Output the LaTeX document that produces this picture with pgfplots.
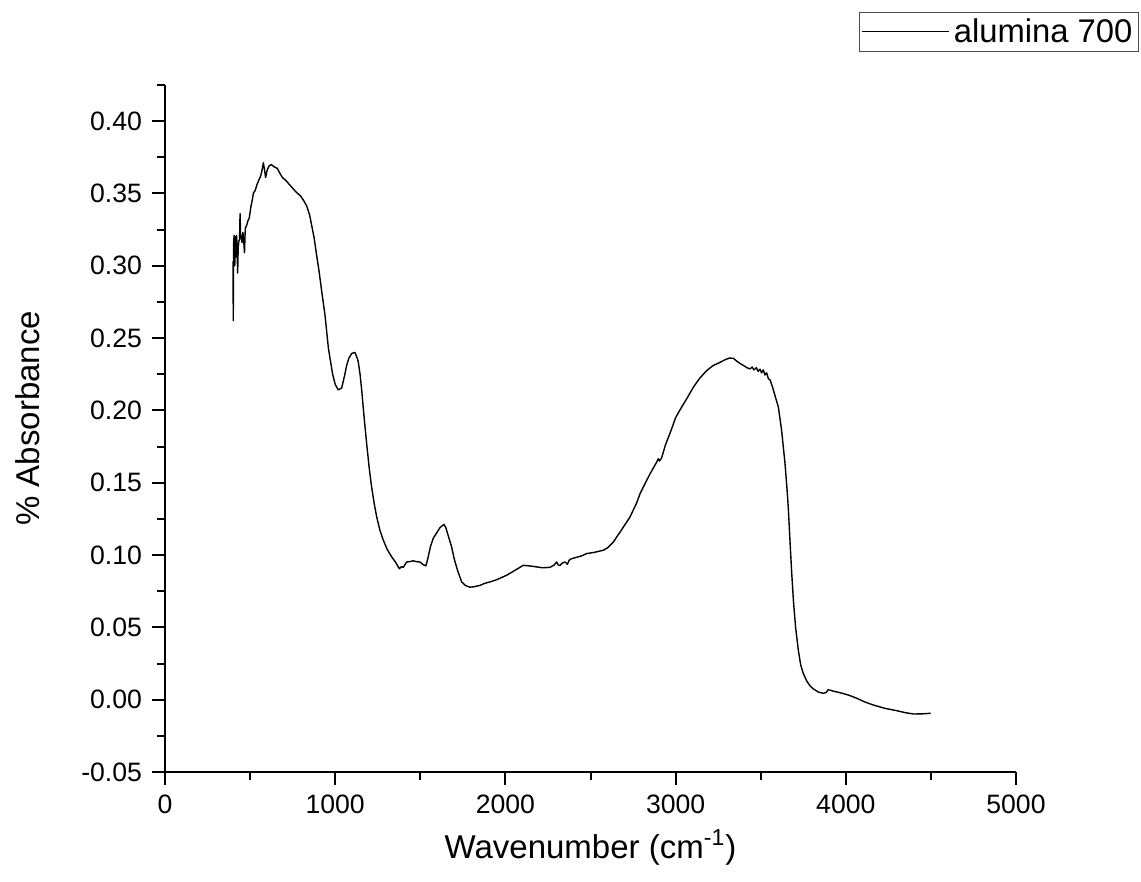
\documentclass[border=0pt]{standalone}
\usepackage{pgfplots}
\pgfplotsset{compat=1.18}
\usepackage{fontspec}
\setmainfont{Liberation Sans}
\pgfplotstableread{
x y
400 0.303
401 0.262
403 0.315
406 0.321
410 0.300
414 0.320
418 0.306
421 0.321
424 0.310
427 0.295
430 0.312
434 0.317
438 0.318
441 0.336
444 0.322
448 0.320
453 0.316
458 0.323
462 0.318
467 0.309
470 0.320
472 0.326
480 0.328
487 0.331
495 0.333
505 0.341
512 0.345
520 0.3505
530 0.352
540 0.356
553 0.3597
562 0.362
570 0.366
578 0.3712
584 0.367
591 0.361
600 0.366
611 0.369
625 0.370
640 0.3685
660 0.3673
675 0.364
690 0.361
710 0.359
739 0.3551
770 0.351
797 0.3482
815 0.345
833 0.3413
850 0.335
865 0.326
876 0.3194
890 0.308
905 0.2964
920 0.283
940 0.266
960 0.243
985 0.225
1000 0.218
1018 0.2142
1038 0.2155
1055 0.224
1067 0.2309
1080 0.236
1097 0.2394
1116 0.2401
1130 0.236
1136 0.2332
1146 0.225
1156 0.2137
1170 0.195
1185 0.1769
1200 0.160
1214 0.147
1230 0.135
1244 0.1263
1263 0.117
1283 0.1102
1305 0.104
1332 0.0987
1355 0.095
1377 0.0905
1390 0.092
1400 0.0915
1420 0.0952
1440 0.0955
1459 0.096
1475 0.0955
1498 0.0952
1515 0.0935
1533 0.0925
1545 0.098
1560 0.106
1577 0.1118
1600 0.116
1616 0.119
1639 0.1212
1650 0.119
1665 0.113
1684 0.1056
1700 0.097
1720 0.089
1743 0.0814
1765 0.079
1790 0.0778
1812 0.0780
1850 0.079
1880 0.0805
1909 0.0814
1950 0.083
2007 0.0860
2050 0.089
2105 0.0929
2140 0.0925
2184 0.0918
2220 0.0912
2262 0.0915
2285 0.093
2301 0.0952
2312 0.093
2321 0.0929
2335 0.0945
2350 0.0952
2364 0.0936
2375 0.0965
2389 0.0975
2420 0.0985
2450 0.0995
2477 0.1010
2520 0.1018
2575 0.1033
2600 0.105
2634 0.109
2680 0.117
2732 0.1263
2771 0.136
2791 0.1424
2830 0.1516
2850 0.1562
2889 0.1643
2898 0.1666
2905 0.165
2918 0.1672
2940 0.176
2977 0.1873
3000 0.195
3035 0.2022
3070 0.209
3104 0.2160
3140 0.222
3182 0.2275
3220 0.231
3261 0.2332
3290 0.235
3316 0.2362
3340 0.236
3360 0.234
3378 0.2325
3400 0.231
3420 0.2295
3437 0.2287
3450 0.2300
3460 0.228
3475 0.2295
3485 0.227
3496 0.2285
3505 0.226
3515 0.228
3525 0.2245
3535 0.226
3545 0.222
3555 0.2211
3570 0.216
3584 0.2102
3604 0.2022
3623 0.1861
3643 0.1631
3655 0.145
3662 0.133
3672 0.110
3682 0.088
3692 0.0688
3705 0.050
3721 0.0343
3735 0.024
3750 0.0182
3770 0.013
3790 0.0095
3809 0.0075
3840 0.0052
3868 0.0044
3885 0.005
3895 0.0068
3903 0.0067
3930 0.0058
3960 0.0050
3986 0.0042
4020 0.003
4064 0.0010
4110 -0.0015
4162 -0.0037
4230 -0.006
4299 -0.0076
4350 -0.0090
4397 -0.0099
4450 -0.0098
4499 -0.0094
}\spectrum
\begin{document}
\begin{tikzpicture}
\useasboundingbox (-82.5pt,-55pt) rectangle (488pt,386pt);
\begin{axis}[
  scale only axis,
  width=425.5pt, height=343.5pt,
  at={(0,0)}, anchor=south west,
  xmin=0, xmax=5000, ymin=-0.05, ymax=0.425,
  axis x line*=bottom, axis y line*=left,
  axis line style={line width=1pt, black},
  tick style={line width=1pt, black},
  tick align=outside,
  major tick length=6.5pt, minor tick length=4pt,
  xtick={0,1000,2000,3000,4000,5000},
  xticklabels={0,1000,2000,3000,4000,5000},
  minor xtick={500,1500,2500,3500,4500},
  ytick={-0.05,0,0.05,0.1,0.15,0.2,0.25,0.3,0.35,0.4},
  yticklabels={-0.05,0.00,0.05,0.10,0.15,0.20,0.25,0.30,0.35,0.40},
  minor ytick={-0.025,0.025,0.075,0.125,0.175,0.225,0.275,0.325,0.375,0.425},
  tick label style={font=\fontsize{13.3}{15}\selectfont},
  xticklabel style={yshift=-1.5pt},
  yticklabel style={xshift=-1.5pt},
  xlabel={Wavenumber (cm\textsuperscript{-1})},
  ylabel={\% Absorbance},
  label style={font=\fontsize{16.5}{19}\selectfont},
  xlabel style={at={(axis description cs:0.5,-0.1252)}, anchor=base},
  ylabel style={at={(axis description cs:-0.161,0.515)}, anchor=center},
  legend style={at={(axis description cs:1.1445,1.1063)}, anchor=north east,
    draw=black!70, line width=0.5pt, font=\fontsize{16.4}{18}\selectfont,
    inner sep=1pt, row sep=0pt},
  legend cell align=left,
  legend image code/.code={\draw[black, line width=0.6pt] (0pt,0pt) -- (43.5pt,0pt);},
]
\addplot[black, line width=0.7pt, line join=round] table[x=x, y=y] {\spectrum};
\addlegendentry{alumina 700}
\end{axis}
\end{tikzpicture}
\end{document}
